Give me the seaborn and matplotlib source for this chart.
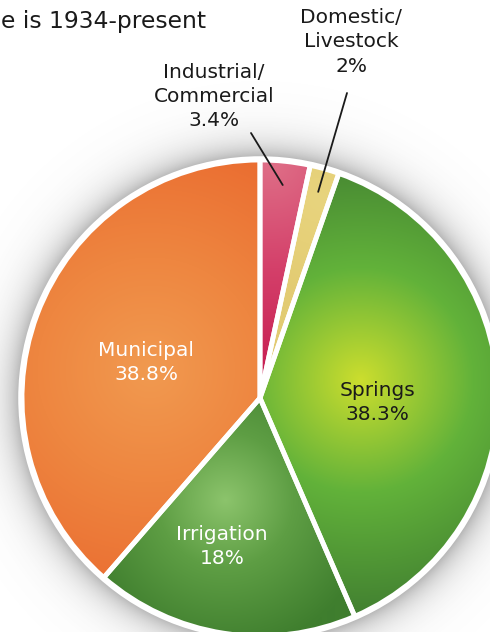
import numpy as np
import matplotlib
matplotlib.use('Agg')
import matplotlib.pyplot as plt
import seaborn as sns
from matplotlib.colors import to_rgb
from matplotlib.patches import Circle

# data
categories = ['Municipal', 'Irrigation', 'Springs', 'Domestic/\nLivestock', 'Industrial/\nCommercial']
shares = [38.8, 18, 38.3, 2, 3.4]
pct_labels = ['38.8%', '18%', '38.3%', '2%', '3.4%']
title_text = 'e is 1934-present'

# radial gradient per slice: inner, middle, outer colour, centre (px, image coords), radius
inner_cols = ['#F19A50', '#8CC46C', '#CCDE2E', '#E8D47E', '#DF7088']
mid_cols = ['#EE8640', '#5E9E44', '#62B23A', '#E6D078', '#D4406A']
outer_cols = ['#EA6A2F', '#3F7E2E', '#3E7A30', '#E2CB72', '#C4164C']
grad_centres = [(150, 370), (225, 500), (360, 380), (320, 200), (270, 160)]
grad_radius = [250, 150, 250, 100, 240]

sns.set_theme(style='white')
plt.rcParams['font.family'] = ['DejaVu Sans']

W, H = 490, 632
fig = plt.figure(figsize=(W / 100, H / 100), dpi=100)
ax = fig.add_axes([0, 0, 1, 1])

cx, cy, R = 260, H - 398, 238

wedges, _ = ax.pie(shares, startangle=90, counterclock=True, center=(cx, cy), radius=R,
                   colors=['none'] * len(shares),
                   wedgeprops=dict(linewidth=3.5, edgecolor='white', zorder=3))
ax.set_xlim(0, W)
ax.set_ylim(0, H)
ax.set_aspect('equal')
ax.axis('off')

xx, yy = np.meshgrid(np.arange(W) + 0.5, np.arange(H) + 0.5)

# soft shadow around the pie
d = np.hypot(xx - cx, yy - cy)
alpha = np.where(d > R - 4, 0.55 * np.exp(-np.clip(d - R, 0, None) / 16.0), 0)
shadow = np.zeros((H, W, 4))
shadow[..., :3] = 0.38
shadow[..., 3] = alpha
ax.imshow(shadow, extent=(0, W, 0, H), origin='lower', zorder=0.5, interpolation='bilinear')
ax.add_patch(Circle((cx, cy), R + 1, facecolor='white', edgecolor='white', lw=4, zorder=1))

for w, ci, cm, co, gc, gr in zip(wedges, inner_cols, mid_cols, outer_cols, grad_centres, grad_radius):
    gx, gy = gc[0], H - gc[1]
    t = np.clip(np.hypot(xx - gx, yy - gy) / gr, 0, 1)[..., None]
    a, b, c = (np.array(to_rgb(k)) for k in (ci, cm, co))
    img = np.where(t < 0.45, a + (b - a) * (t / 0.45), b + (c - b) * ((t - 0.45) / 0.55))
    im = ax.imshow(img, extent=(0, W, 0, H), origin='lower', zorder=2, interpolation='bilinear')
    im.set_clip_path(w)

# title fragment
ax.text(1, H - 28, title_text, fontsize=16.8, color='#1a1a1a', ha='left', va='baseline')

txt = dict(fontsize=14.5, ha='center', va='top', linespacing=1.35, zorder=5)

# labels inside slices
ax.text(146, H - 341, f'{categories[0]}\n{pct_labels[0]}', color='white', **txt)
ax.text(222, H - 525, f'{categories[1]}\n{pct_labels[1]}', color='white', **txt)
ax.text(377, H - 381, f'{categories[2]}\n{pct_labels[2]}', color='#1a1a1a', **txt)

# outside labels with leader lines
ax.text(351, H - 8, f'{categories[3]}\n{pct_labels[3]}', color='#1a1a1a', **txt)
ax.text(214, H - 63, f'{categories[4]}\n{pct_labels[4]}', color='#1a1a1a', **txt)

starts = {3: (347, H - 93), 4: (251, H - 133)}
for i, (sx, sy) in starts.items():
    mid = np.deg2rad((wedges[i].theta1 + wedges[i].theta2) / 2)
    ex, ey = cx + 0.9 * R * np.cos(mid), cy + 0.9 * R * np.sin(mid)
    ax.plot([sx, ex], [sy, ey], color='#1a1a1a', lw=1.3, zorder=6)

fig.savefig('out.png', dpi=100)
